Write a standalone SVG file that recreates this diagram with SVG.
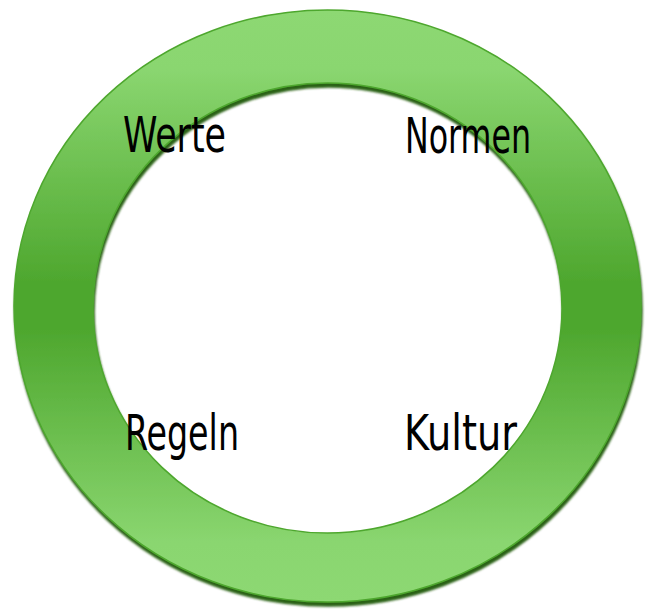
<svg xmlns="http://www.w3.org/2000/svg" width="647" height="609" viewBox="0 0 647 609">
  <defs>
    <linearGradient id="ringGrad" x1="0" y1="10" x2="0" y2="602" gradientUnits="userSpaceOnUse">
      <stop offset="0" stop-color="#8dd873"/>
      <stop offset="0.1" stop-color="#8ad670"/>
      <stop offset="0.46" stop-color="#4ea72e"/>
      <stop offset="0.54" stop-color="#4ea72e"/>
      <stop offset="0.9" stop-color="#8ad670"/>
      <stop offset="1" stop-color="#8dd873"/>
    </linearGradient>
    <filter id="shadow" x="-5%" y="-5%" width="110%" height="112%">
      <feDropShadow dx="1" dy="4" stdDeviation="1.2" flood-color="#2a6218" flood-opacity="1"/>
    </filter>
  </defs>
  <style>
    .ring { fill: url(#ringGrad); fill-rule: evenodd; stroke: #4ea72e; stroke-width: 1.5; filter: url(#shadow); }
    .label { font-family: "DejaVu Sans Condensed", "DejaVu Sans", sans-serif; font-stretch: condensed; font-weight: 300; font-size: 50px; fill: #000000; }
  </style>
  <rect width="647" height="609" fill="#ffffff"/>
  <g id="ring">
    <path class="ring" d="M 14 306 A 313.5 296 0 1 0 641 306 A 313.5 296 0 1 0 14 306 Z M 93 308 A 234.5 225 0 1 1 562 308 A 234.5 225 0 1 1 93 308 Z"/>
  </g>
  <g id="werte"><text class="label" x="123" y="152" textLength="103" lengthAdjust="spacingAndGlyphs">Werte</text></g>
  <g id="normen"><text class="label" x="405" y="153" textLength="126" lengthAdjust="spacingAndGlyphs">Normen</text></g>
  <g id="regeln"><text class="label" x="125" y="450" textLength="114" lengthAdjust="spacingAndGlyphs">Regeln</text></g>
  <g id="kultur"><text class="label" x="404" y="450" textLength="113" lengthAdjust="spacingAndGlyphs">Kultur</text></g>
  <g id="connectors"></g>
</svg>
